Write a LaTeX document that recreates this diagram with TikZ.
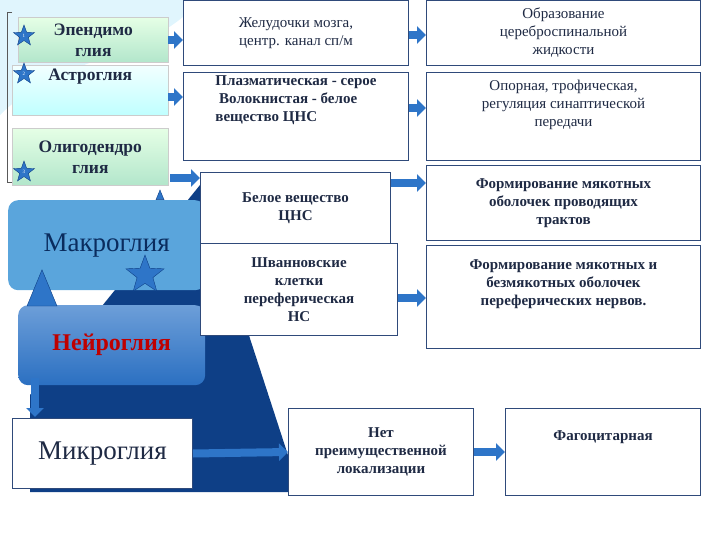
\documentclass[tikz,border=0pt]{standalone}
\usepackage{fontspec}
\setmainfont{Liberation Serif}
\usetikzlibrary{shapes.geometric,shapes.arrows,arrows.meta}
\definecolor{ink}{HTML}{1F2A44}
\definecolor{frame}{HTML}{2F4A7A}
\definecolor{arr}{HTML}{2E75C8}
\definecolor{navy}{HTML}{0E3F86}
\definecolor{macrofill}{HTML}{5AA5DC}
\tikzset{
  info/.style={draw=frame, line width=1pt, fill=white, align=center, text=ink,
    font=\bfseries\fontsize{15}{18}\selectfont, inner sep=2pt, anchor=north west},
  glia/.style={draw=gray!40, line width=0.6pt, align=center, text=ink,
    font=\bfseries\fontsize{17.5}{21}\selectfont, anchor=north west},
  big/.style={rounded corners=10pt, align=center, anchor=north west,
    font=\fontsize{27}{30}\selectfont},
  flow/.style={-{Triangle[length=9pt,width=17pt]}, line width=8pt, draw=arr},
  mark/.style={star, star points=5, star point ratio=2.4, fill=arr, draw=navy,
    inner sep=0pt, minimum size=#1},
}
\begin{document}
\begin{tikzpicture}[x=1pt,y=-1pt]
\useasboundingbox (0,0) rectangle (720,540);
% backdrop
\fill[cyan!12] (0,0) -- (200,0) .. controls (150,60) and (60,55) .. (0,115) -- cycle;
\fill[navy] (200,185) -- (300,492) -- (30,492) -- (30,395) -- cycle;

% left column
\node[glia, top color=green!10, bottom color=green!35!teal!30, minimum width=150pt, minimum height=45pt] (epend) at (18,17) {Эпендимо\\глия};
\node[glia, top color=cyan!5, bottom color=cyan!25, minimum width=156pt, minimum height=50pt] (astro) at (12,65) {Астроглия\\[10pt]};
\node[glia, top color=green!10, bottom color=green!35!teal!30, minimum width=156pt, minimum height=57pt] (oligo) at (12,128) {Олигодендро\\глия};
\draw[gray!70!black] (12,12) -- (7,12) -- (7,182) -- (12,182);
\node[mark=22pt] (s1) at (24,36) {}; \node[text=white, font=\tiny] at (s1) {1};
\node[mark=22pt] (s2) at (24,74) {}; \node[text=white, font=\tiny] at (s2) {2};
\node[mark=22pt] (s3) at (24,172) {}; \node[text=white, font=\tiny] at (s3) {3};

\node[big, fill=macrofill, minimum width=197pt, minimum height=90pt, text=navy!70!black] (macro) at (8,200) {Макроглия};
\node[big, top color=arr!70, bottom color=arr!90!navy, minimum width=187pt, minimum height=80pt, text=red!75!black, font=\bfseries\fontsize{24}{26}\selectfont] (neuro) at (18,305) {Нейроглия};
\node[big, rounded corners=0pt, draw=frame, line width=1pt, fill=white, minimum width=180pt, minimum height=70pt, text=ink] (micro) at (12,418) {Микроглия};
\node[mark=40pt] (bigstar) at (145,275) {};
\node[isosceles triangle, shape border rotate=90, fill=arr, draw=navy, minimum width=30pt, minimum height=26pt, inner sep=0pt] (tri) at (42,296) {};
\node[isosceles triangle, shape border rotate=90, fill=arr, draw=navy, minimum width=8pt, minimum height=7pt, inner sep=0pt] (tri2) at (160,197) {};

% middle column
\node[info, font=\fontsize{15}{18}\selectfont, minimum width=225pt, minimum height=65pt] (vent) at (183,0) {Желудочки мозга,\\центр. канал сп/м};
\node[info, minimum width=225pt, minimum height=88pt, align=left] (plasm) at (183,72) {Плазматическая - серое\\\ Волокнистая - белое\\вещество ЦНС\\[18pt]};
\node[info, minimum width=197pt, minimum height=92pt] (schw) at (200,243) {Шванновские\\клетки\\переферическая\\НС};
\node[info, minimum width=190pt, minimum height=71pt] (white) at (200,172) {Белое вещество\\ЦНС};
\node[info, minimum width=185pt, minimum height=87pt] (none) at (288,408) {Нет\\преимущественной\\локализации};

% right column
\node[info, font=\fontsize{15}{18}\selectfont, minimum width=274pt, minimum height=65pt] (csf) at (426,0) {Образование\\цереброспинальной\\жидкости};
\node[info, font=\fontsize{15}{18}\selectfont, minimum width=274pt, minimum height=88pt] (supp) at (426,72) {Опорная, трофическая,\\регуляция синаптической\\передачи\\[8pt]};
\node[info, minimum width=274pt, minimum height=75pt] (myel) at (426,165) {Формирование мякотных\\оболочек проводящих\\трактов};
\node[info, minimum width=274pt, minimum height=103pt] (perif) at (426,245) {Формирование мякотных и\\безмякотных  оболочек\\переферических нервов.\\[10pt]};
\node[info, minimum width=195pt, minimum height=87pt] (phago) at (505,408) {Фагоцитарная\\[14pt]};

% arrows
\draw[flow] (168,40) -- (vent.west |- 0,40);
\draw[flow] (168,97) -- (plasm.west |- 0,97);
\draw[flow] (170,178) -- (white.west |- 0,178);
\draw[flow] (vent.east |- 0,35) -- (csf.west |- 0,35);
\draw[flow] (plasm.east |- 0,108) -- (supp.west |- 0,108);
\draw[flow] (white.east |- 0,183) -- (myel.west |- 0,183);
\draw[flow] (schw.east |- 0,298) -- (perif.west |- 0,298);
\draw[flow] (micro.east) -- (none.west);
\draw[flow] (none.east) -- (phago.west);
\draw[flow] (35,378) -- (35,417);
\end{tikzpicture}
\end{document}
